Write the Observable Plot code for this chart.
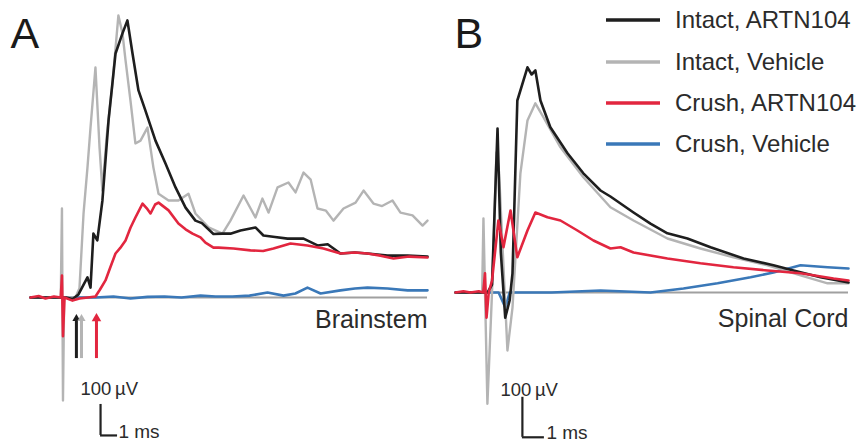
<!DOCTYPE html>
<html><head><meta charset="utf-8">
<script src="https://cdn.jsdelivr.net/npm/d3@7"></script>
<script src="https://cdn.jsdelivr.net/npm/@observablehq/plot@0.6"></script>
<style>
body{margin:0;background:#fff;}
#wrap{position:relative;width:868px;height:445px;overflow:hidden;font-family:"Liberation Sans",Arial,sans-serif;}
#wrap .panel{position:absolute;top:0;}
.lg{position:absolute;left:606px;display:flex;align-items:center;height:28px;color:#2b2b2b;font-size:24px;white-space:nowrap;}
.lg svg{margin-right:15px;}
</style></head><body><div id="wrap"></div>
<script>
// ---------- series ----------
const seriesNames  = ["Intact, ARTN104", "Intact, Vehicle", "Crush, ARTN104", "Crush, Vehicle"];
const seriesColors = ["#1e1e1e", "#b4b4b4", "#e2263f", "#3a78b8"];
const drawOrder    = [3, 1, 0, 2]; // blue, gray, black, red on top

// ---------- Panel A: Brainstem (time ms, amplitude µV) ----------
const A_t_intactArtn = [-1.88, 0.2, 0.6, 0.94, 1.47, 1.65, 1.82, 2.05, 2.35, 2.71, 3.12, 3.53, 3.82, 4.12, 4.47, 4.88, 5.47, 6.06, 6.65, 7.24, 7.82, 8.2, 8.88, 9.41, 9.88, 10.47, 11.35, 11.82, 12.5, 13.24, 14.18, 15.0, 15.6, 16.35, 17.2, 17.94, 19.12, 20.3, 21.47];
const A_v_intactArtn = [0, 0, -5, 10, 65, 32, 206, 184, 313, 571, 787, 852, 894, 787, 668, 603, 506, 432, 355, 290, 248, 240, 205, 206, 206, 216, 226, 200, 195, 190, 190, 168, 172, 142, 145, 142, 135, 135, 132];

const A_t_intactVeh = [-1.88, -0.1, -0.03, 0.03, 0.1, 0.76, 1.0, 1.24, 1.47, 1.65, 1.94, 2.18, 2.35, 2.6, 2.94, 3.29, 3.53, 3.71, 4.0, 4.29, 4.59, 5.0, 5.35, 5.65, 6.24, 6.82, 7.41, 7.82, 8.59, 9.41, 9.88, 10.65, 11.35, 11.76, 12.12, 12.65, 13.29, 13.71, 14.18, 14.6, 15.0, 15.5, 15.94, 16.53, 17.24, 17.71, 18.29, 18.8, 19.41, 19.88, 20.59, 21.18, 21.47];
const A_v_intactVeh = [0, 0, 287, -332, 0, 0, 30, 271, 419, 548, 742, 484, 345, 520, 690, 910, 852, 765, 635, 497, 506, 548, 419, 335, 313, 313, 335, 271, 226, 206, 248, 329, 258, 319, 274, 355, 371, 339, 403, 380, 287, 280, 248, 287, 306, 345, 303, 295, 313, 274, 265, 232, 248];

const A_t_crushArtn = [-1.88, -1.4, -1.0, -0.5, -0.1, -0.03, 0.03, 0.12, 0.59, 1.0, 1.5, 1.94, 2.2, 2.53, 2.8, 3.12, 3.4, 3.71, 4.0, 4.29, 4.71, 5.0, 5.18, 5.45, 5.65, 6.24, 6.82, 7.24, 7.65, 8.12, 8.41, 8.88, 9.18, 10.06, 11.06, 11.8, 12.41, 13.41, 14.41, 15.35, 16.35, 17.2, 17.94, 18.7, 19.47, 20.4, 21.47];
const A_v_crushArtn = [0, 5, -3, 3, 0, 71, -125, 0, -10, -3, 0, 3, 25, 55, 95, 142, 160, 184, 225, 258, 303, 285, 271, 300, 306, 281, 239, 220, 206, 194, 177, 161, 161, 158, 152, 150, 158, 174, 168, 158, 142, 145, 142, 135, 126, 132, 129];

const A_t_crushVeh = [-1.88, 1.94, 3.0, 4.0, 5.0, 6.0, 7.0, 8.12, 9.0, 10.0, 11.0, 12.06, 13.0, 13.7, 14.41, 15.18, 16.35, 17.2, 17.94, 19.12, 20.3, 21.47];
const A_v_crushVeh = [0, 0, 3, -3, 2, 3, 0, 6, 3, 3, 6, 16, 6, 13, 32, 13, 23, 29, 32, 29, 23, 23];

// onset arrows (ms): Intact ARTN104, Intact Vehicle, Crush ARTN104
const A_onsetT = [0.82, 1.12, 2.0];
const A_onsetSeries = [0, 1, 2];

// ---------- Panel B: Spinal Cord ----------
const B_t_intactArtn = [-1.36, -0.2, 0.1, 0.3, 0.55, 0.7, 0.9, 1.1, 1.23, 1.45, 1.91, 2.1, 2.27, 2.5, 2.95, 3.73, 4.45, 5.23, 5.68, 6.73, 7.5, 8.27, 9.18, 10.23, 11.73, 13.09, 14.0, 15.23, 16.5];
const B_v_intactArtn = [0, 0, 0, 20, 410, 100, -63, -20, 48, 480, 563, 545, 555, 480, 413, 348, 298, 255, 240, 200, 172, 148, 135, 113, 85, 68, 55, 38, 25];

const B_t_intactVeh = [-1.36, -0.15, -0.09, 0.09, 0.3, 0.5, 0.62, 1.0, 1.23, 1.59, 1.91, 2.27, 2.64, 3.41, 4.45, 5.68, 6.73, 8.27, 9.77, 11.27, 12.82, 14.32, 15.55, 16.5];
const B_v_intactVeh = [0, 0, 185, -278, 0, 350, 300, -145, -38, 298, 430, 473, 438, 363, 288, 213, 180, 135, 110, 88, 68, 43, 23, 23];

const B_t_crushArtn = [-1.36, -1.0, -0.68, -0.3, -0.1, -0.02, 0.05, 0.15, 0.3, 0.59, 0.82, 1.14, 1.45, 1.91, 2.27, 2.82, 3.41, 4.18, 4.91, 5.68, 6.14, 6.73, 8.27, 9.77, 11.27, 12.82, 14.32, 15.82, 16.5];
const B_v_crushArtn = [0, 3, 0, 3, 0, 48, -63, 0, 30, 180, 113, 205, 88, 155, 200, 188, 180, 155, 130, 110, 113, 100, 85, 73, 63, 55, 48, 35, 30];

const B_t_crushVeh = [-1.36, 0.6, 0.91, 1.1, 3.0, 5.23, 7.5, 9.0, 10.55, 12.05, 13.09, 14.32, 15.55, 16.5];
const B_v_crushVeh = [0, 0, -38, 0, 0, 5, 0, 10, 23, 38, 50, 68, 63, 60];

// scale bars
const scaleBarV = 100; // µV
const scaleBarT = 1;   // ms
const scaleLabels = ["100\u2009µV", "1 ms"];
const regionLabels = ["Brainstem", "Spinal Cord"];
const panelLetters = ["A", "B"];

// ---------- build ----------
function toRows(ts, vs, s) { return ts.map((t, i) => ({t, v: vs[i], s})); }

const panelsData = [
  {
    series: [toRows(A_t_intactArtn, A_v_intactArtn, 0), toRows(A_t_intactVeh, A_v_intactVeh, 1),
             toRows(A_t_crushArtn, A_v_crushArtn, 2), toRows(A_t_crushVeh, A_v_crushVeh, 3)],
    xDomain: [-1.88, 21.47], xRange: [30, 427], yRange: [297, -13],
    bar: {t: 2.24, v: -445}, barLabel1: {t: 1.06, v: -297}, barLabel2: {t: 3.29, v: -435},
    region: {t: 21.47, v: -72}, letterDx: 10, left: 0
  },
  {
    series: [toRows(B_t_intactArtn, B_v_intactArtn, 0), toRows(B_t_intactVeh, B_v_intactVeh, 1),
             toRows(B_t_crushArtn, B_v_crushArtn, 2), toRows(B_t_crushVeh, B_v_crushVeh, 3)],
    xDomain: [-1.36, 16.5], xRange: [21, 414], yRange: [292, -108],
    bar: {t: 1.68, v: -362}, barLabel1: {t: 0.68, v: -245}, barLabel2: {t: 2.77, v: -352},
    region: {t: 16.5, v: -65}, letterDx: 20, left: 434
  }
];

const wrap = document.getElementById("wrap");
const textColor = "#2b2b2b";

panelsData.forEach((p, pi) => {
  const marks = [
    Plot.ruleY([0], {x1: p.xDomain[0], x2: p.xDomain[1], stroke: "#a0a0a0", strokeWidth: 2})
  ];
  drawOrder.forEach(si => {
    marks.push(Plot.line(p.series[si], {x: "t", y: "v", stroke: seriesColors[si], strokeWidth: si === 1 ? 2.4 : 2.6, strokeLinejoin: "round"}));
  });
  if (pi === 0) {
    const arrows = A_onsetT.map((t, i) => ({t, s: A_onsetSeries[i]}));
    marks.push(Plot.ruleX(arrows, {x: "t", y1: -197, y2: -75, stroke: d => seriesColors[d.s], strokeWidth: 3}));
    marks.push(Plot.dot(arrows, {x: "t", y: -68, symbol: "triangle", r: d => d.s === 2 ? 7 : 5, fill: d => seriesColors[d.s], stroke: "none"}));
  }
  // scale bar
  marks.push(Plot.ruleX([p.bar], {x: "t", y1: "v", y2: d => d.v + scaleBarV, stroke: "#222", strokeWidth: 2.2}));
  marks.push(Plot.ruleY([p.bar], {y: "v", x1: "t", x2: d => d.t + scaleBarT, stroke: "#222", strokeWidth: 2.2}));
  marks.push(Plot.text([p.barLabel1], {x: "t", y: "v", text: () => scaleLabels[0], textAnchor: "start", fontSize: 18.5, fill: textColor}));
  marks.push(Plot.text([p.barLabel2], {x: "t", y: "v", text: () => scaleLabels[1], textAnchor: "start", fontSize: 19, fill: textColor}));
  // region label
  marks.push(Plot.text([p.region], {x: "t", y: "v", text: () => regionLabels[pi], textAnchor: "end", fontSize: 25, fill: textColor}));
  // panel letter
  marks.push(Plot.text([panelLetters[pi]], {frameAnchor: "top-left", lineAnchor: "top", textAnchor: "start", dx: p.letterDx, dy: 17, fontSize: 43, fill: "#1a1a1a"}));

  const svg = Plot.plot({
    width: 434, height: 445, margin: 0,
    x: {domain: p.xDomain, range: p.xRange, axis: null},
    y: {domain: [0, 1000], range: p.yRange, axis: null},
    style: {background: "transparent", fontFamily: '"Liberation Sans", Arial, sans-serif', overflow: "visible"},
    marks
  });
  svg.classList.add("panel");
  svg.style.left = p.left + "px";
  wrap.appendChild(svg);
});

// legend (HTML)
const legendTops = [6, 48, 89, 130];
seriesNames.forEach((name, i) => {
  const row = document.createElement("div");
  row.className = "lg";
  row.style.top = legendTops[i] + "px";
  row.innerHTML = `<svg width="54" height="6"><line x1="0" x2="54" y1="3" y2="3" stroke="${seriesColors[i]}" stroke-width="3.5"/></svg><span>${name}</span>`;
  wrap.appendChild(row);
});
</script>
</body></html>
